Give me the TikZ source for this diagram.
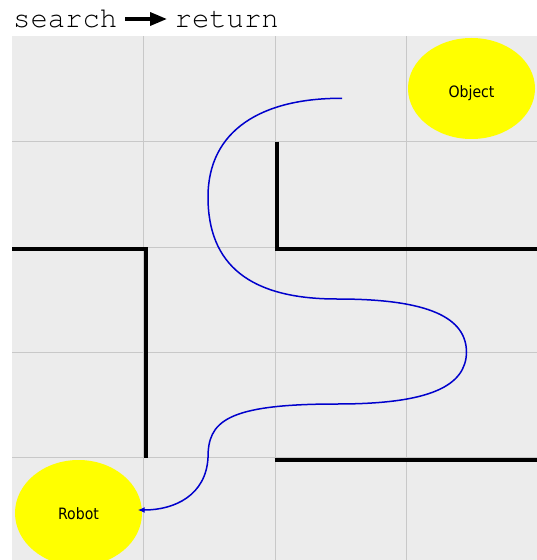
\documentclass[tikz,border=0pt]{standalone}
\usepackage{fontspec}
\usetikzlibrary{arrows.meta,shapes.geometric}
\newfontfamily\labelfont{DejaVu Sans Condensed}
\newfontfamily\titlefont{TeX Gyre Cursor}
\definecolor{gridbg}{HTML}{ECECEC}
\definecolor{gridln}{HTML}{C8C8C8}
\definecolor{routeblue}{HTML}{0000CC}
\definecolor{blobyellow}{HTML}{FFFF00}
\tikzset{
  gridline/.style={draw=gridln, line width=1bp},
  wall/.style={draw=black, line width=4bp, line join=miter, line cap=butt},
  blob/.style={ellipse, fill=blobyellow, draw=none, inner sep=0pt,
    font=\labelfont\fontsize{15.7}{18}\selectfont},
  route/.style={draw=routeblue, line width=1.5bp, -{Latex[length=7bp,width=6bp]}},
  titletext/.style={inner sep=0pt, anchor=base west,
    font=\titlefont\fontsize{29}{32}\selectfont},
  titlearrow/.style={draw=black, line width=3.5bp, -{Triangle[length=17bp,width=13bp]}}
}
\begin{document}
\begin{tikzpicture}[x=1bp,y=-1bp]
\clip (0,0) rectangle (537,560);
\fill[white] (0,0) rectangle (537,560);
% grid background
\fill[gridbg] (12,36.4) rectangle (537,562);
\foreach \x in {143.3,275,406.7} \draw[gridline] (\x,36.4) -- (\x,562);
\foreach \y in {141.7,247.1,352.4,457.7} \draw[gridline] (12,\y) -- (537,\y);
% walls
\draw[wall] (277,141.7) -- (277,249) -- (537,249);
\draw[wall] (12,249) -- (145.5,249) -- (145.5,457.7);
\draw[wall] (274.5,460) -- (537,460);
% title
\node[titletext] (search) at (13,27.3) {search};
\node[titletext] (return) at (174.5,27.3) {return};
\draw[titlearrow, shorten <=7.6bp, shorten >=7.5bp]
  ([yshift=8.3bp]search.base east) -- ([yshift=8.3bp]return.base west);
% object and robot
\node[blob, minimum width=127bp, minimum height=101bp, text height=18.4bp, text depth=0bp] (obj) at (471.5,88.5) {Object};
\node[blob, minimum width=127bp, minimum height=106bp, text height=13.4bp, text depth=0bp] (robot) at (78.5,513) {Robot};
% route
\coordinate (start) at (342,98.3);
\draw[route] (start)
  .. controls (262,98) and (208,130) .. (208,197)
  .. controls (208,265) and (250,299) .. (337,299)
  .. controls (430,299) and (466,318) .. (466.5,352)
  .. controls (466,386) and (430,404) .. (337,404)
  .. controls (225,404) and (208,422) .. (208,457.7)
  .. controls (206,495) and (175,510) .. ([xshift=-4.5bp,yshift=3bp]robot.east);
\end{tikzpicture}
\end{document}
